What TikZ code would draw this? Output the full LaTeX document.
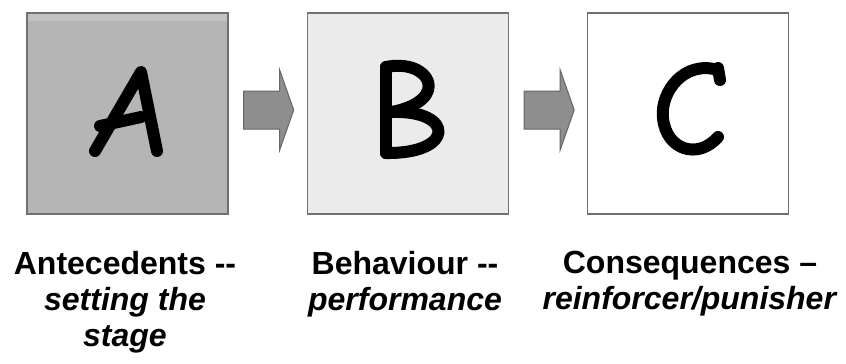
\documentclass[tikz,border=0pt]{standalone}
\usepackage{fontspec}
\setmainfont{Liberation Sans}[Ligatures=TeXOff]
\usetikzlibrary{calc}
\definecolor{boxline}{HTML}{707070}
\definecolor{fillA}{HTML}{B5B5B5}
\definecolor{stripA}{HTML}{C2C2C2}
\definecolor{fillB}{HTML}{EBEBEB}
\definecolor{arrfill}{HTML}{8E8E8E}
\definecolor{arrline}{HTML}{666666}
\tikzset{
  box/.style={draw=boxline, line width=1.4pt, minimum width=201pt, minimum height=201pt, inner sep=0pt},
  blockarrow/.style={draw=arrline, fill=arrfill, line width=1pt, line join=miter},
  pen/.style={line width=12pt, line cap=round, line join=round, black},
  lbl/.style={align=center, inner sep=0pt, anchor=north, font=\fontsize{32}{36}\selectfont\bfseries}
}
\begin{document}
\begin{tikzpicture}[x=1pt, y=-1pt]
\useasboundingbox (0,0) rectangle (846,364);
\fill[white] (0,0) rectangle (846,364);
% boxes
\node[box, fill=fillA] (A) at (127.5,113.5) {};
\fill[stripA] ($(A.north west)+(1,1)$) rectangle ($(A.north east)+(-1,9)$);
\node[box] at (A) {};
\node[box, fill=fillB] (B) at (408,113.5) {};
\node[box, fill=white] (C) at (688,113.5) {};
% block arrows
\foreach \s in {A,B}{
  \draw[blockarrow] ($(\s.east)+(15,-22.5)$) -- ++(36,0) -- ++(0,-21) -- ++(14,40) -- ++(-14,40) -- ++(0,-21) -- ++(-36,0) -- cycle;
}
% letter A
\draw[pen] (95,151) -- (141,72) -- (157,151);
\draw[pen] (100,126) -- (141,117);
% letter B
\draw[pen] (386,67) -- (386,153);
\draw[pen] (386,67) .. controls (430,58) and (452,100) .. (392,112);
\draw[pen] (392,112) .. controls (455,110) and (455,154) .. (386,153);
% letter C
\draw[pen] (718,70) .. controls (684,60) and (660,92) .. (663,118) .. controls (666,150) and (698,160) .. (718,137);
\draw[pen] (718,68) -- (720,80);
% labels
\node[lbl] (tA) at (125,251) {Antecedents --\\ \textit{setting the}\\ \textit{stage}};
\node[lbl] (tB) at (405,251) {Behaviour --\\ \textit{performance}};
\node[lbl] (tC) at (690,251) {Consequences –\\ \textit{reinforcer/punisher}};
\end{tikzpicture}
\end{document}
